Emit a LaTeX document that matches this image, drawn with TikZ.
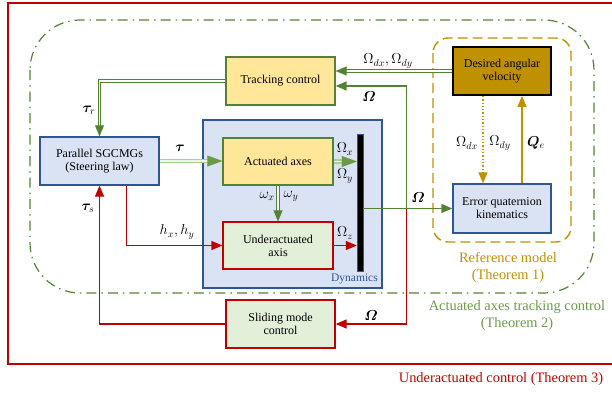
\documentclass[tikz,border=0pt]{standalone}
\usepackage{amsmath}
\usepackage{bm}
\usepackage{fontspec}
\setmainfont{Liberation Serif}
\usetikzlibrary{arrows.meta,calc,positioning,decorations.markings}
\definecolor{dark_red}{RGB}{192,0,0}
\definecolor{dark_green}{RGB}{84,130,53}
\definecolor{mid_green}{RGB}{106,154,72}
\definecolor{light_green}{RGB}{169,209,142}
\definecolor{dark_gold}{RGB}{191,144,0}
\definecolor{dark_blue}{RGB}{47,85,151}
\definecolor{pale_blue}{RGB}{218,227,243}
\definecolor{pale_yellow}{RGB}{255,230,153}
\definecolor{pale_green}{RGB}{226,240,217}

\begin{document}
\begin{tikzpicture}[x=1pt,y=-1pt,>={Triangle[length=11pt,width=9pt]},
        font=\fontsize{12}{13}\selectfont,
        block/.style={rectangle,align=center,line width=1.3pt,inner sep=2pt,
            minimum width=109pt,minimum height=48pt},
        blueblock/.style={block,draw=dark_blue,fill=pale_blue},
        yellowblock/.style={block,draw=dark_green,fill=pale_yellow},
        redblock/.style={block,draw=dark_red,fill=pale_green},
        lbl/.style={font=\fontsize{14.5}{16}\selectfont,inner sep=1pt},
        theorem/.style={align=center,font=\fontsize{14.4}{17}\selectfont},
        redline/.style={draw=dark_red,line width=1.3pt,->},
        greenline/.style={draw=dark_green,line width=1.4pt,->},
        tip/.style={postaction={decorate,decoration={markings,
            mark=at position 1 with {\arrow[#1,line width=0.1pt]{Triangle[length=11pt,width=9pt]}}}}},
        bigtip/.style={postaction={decorate,decoration={markings,
            mark=at position 1 with {\arrow[#1,line width=0.1pt]{Triangle[length=15pt,width=11pt]}}}}},
        dbl/.style={draw=dark_green,line width=3.6pt,shorten >=9pt,
            postaction={draw=white,line width=1.6pt,shorten >=8pt},tip=dark_green},
        lightdbl/.style={draw=light_green,line width=4.4pt,shorten >=12pt,
            postaction={draw=pale_green!60!white,line width=1.6pt,shorten >=11pt},bigtip=mid_green},
        goldline/.style={draw=dark_gold,line width=1.3pt,->}]
        \useasboundingbox (0,0) rectangle (612,394);

        % frames of the three theorems
        \draw[dark_red,line width=1.3pt] (8,3) rectangle (614,364);
        \draw[dark_green,line width=1.2pt,rounded corners=50pt,
            dash pattern=on 10pt off 5pt on 1.5pt off 5pt] (30,20) rectangle (594,293);
        \draw[dark_gold,line width=1.4pt,rounded corners=15pt,
            dash pattern=on 10pt off 5pt] (433,38) rectangle (571,242);

        \node[theorem,text=dark_red] (thm3) at (501,379) {Underactuated control (Theorem 3)};
        \node[theorem,text=mid_green] (thm2) at (517,316) {Actuated axes tracking control\\(Theorem 2)};
        \node[theorem,text=dark_gold] (thm1) at (508,267) {Reference model\\(Theorem 1)};

        % blocks
        \node[yellowblock] (tracking) at (280.5,81) {Tracking control};
        \node[block,minimum width=98pt,draw=black,line width=1.8pt,fill=dark_gold] (desired) at (502,71) {Desired angular\\velocity};
        \node[blueblock,minimum width=98pt,minimum height=49pt] (errorq) at (502,208.5) {Error quaternion\\kinematics};
        \node[blueblock,minimum width=119pt] (sgcmg) at (99.5,161) {Parallel SGCMGs\\(Steering law)};
        \node[blueblock,minimum width=179pt,minimum height=168pt] (dynamics) at (292.5,204) {};
        \node[text=dark_blue,font=\fontsize{11.5}{12}\selectfont,anchor=south east,inner sep=1pt] (dynlabel) at (379,285) {Dynamics};
        \node[yellowblock,minimum width=110pt,minimum height=47pt] (actuated) at (278,161.5) {Actuated axes};
        \node[redblock,minimum width=110pt,minimum height=47pt] (under) at (278,245.5) {Underactuated\\axis};
        \node[fill=black,draw=dark_blue,line width=0.4pt,inner sep=0pt,minimum width=6pt,minimum height=137pt] (bar) at (360,202.5) {};
        \node[redblock] (sliding) at (280.5,324) {Sliding mode\\control};
        \coordinate (split) at (406.5,208.5);

        % connectors
        \draw[dbl] (desired.west) -- (desired.west -| tracking.east);
        \draw[greenline] (split) |- ([yshift=-5pt]tracking.east);
        \draw[greenline] (bar.east |- errorq.west) -- (errorq.west);
        \draw[redline] (split) |- (sliding.east);
        \draw[dbl] (tracking.west) -| (sgcmg.north);
        \draw[lightdbl] (sgcmg.east) -- (sgcmg.east -| actuated.west);
        \draw[lightdbl] (actuated.east) -- (actuated.east -| bar.west);
        \draw[dbl] (actuated.south) -- (under.north);
        \draw[redline] (under.east) -- (under.east -| bar.west);
        \draw[redline] (sliding.west) -| (sgcmg.south);
        \draw[redline] ([xshift=27pt]sgcmg.south) |- (under.west);
        \draw[goldline,dotted] ([xshift=-19pt]desired.south) -- ([xshift=-19pt]errorq.north);
        \draw[goldline] ([xshift=20pt]errorq.north) -- ([xshift=20pt]desired.south);

        % labels
        \node[lbl] (l_dxdy) at (388,61) {$\Omega_{dx},\Omega_{dy}$};
        \node[lbl] (l_omtrack) at (369,97) {$\bm{\varOmega}$};
        \node[lbl] (l_omerr) at (418,198) {$\bm{\varOmega}$};
        \node[lbl] (l_omslide) at (371,316) {$\bm{\varOmega}$};
        \node[lbl] (l_taur) at (89,110) {$\bm{\tau}_r$};
        \node[lbl] (l_tau) at (180,148) {$\bm{\tau}$};
        \node[lbl] (l_taus) at (88,208) {$\bm{\tau}_s$};
        \node[lbl] (l_hxhy) at (177,232) {$h_x,h_y$};
        \node[lbl] (l_omx) at (345,149) {$\Omega_x$};
        \node[lbl] (l_omy) at (345,176) {$\Omega_y$};
        \node[lbl] (l_omz) at (345,233) {$\Omega_z$};
        \node[lbl] (l_wx) at (267,196) {$\omega_x$};
        \node[lbl] (l_wy) at (291,196) {$\omega_y$};
        \node[lbl] (l_dx) at (467,143) {$\Omega_{dx}$};
        \node[lbl] (l_dy) at (500,143) {$\Omega_{dy}$};
        \node[lbl] (l_qe) at (536,143) {$\bm{Q}_e$};
\end{tikzpicture}
\end{document}
